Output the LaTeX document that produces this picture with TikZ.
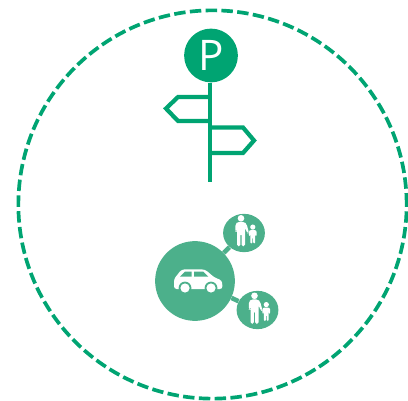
\documentclass[tikz,border=0pt]{standalone}
\usepackage{fontspec}
\setmainfont{Open Sans}
\usetikzlibrary{shapes.geometric, backgrounds}
\definecolor{signG}{HTML}{00A472}
\definecolor{carG}{HTML}{4CB08B}
\tikzset{
  ring/.style    ={draw=signG, line width=2.1pt, dash pattern=on 6.5pt off 2.5pt,
                   circle, inner sep=0pt, minimum size=221pt},
  badge/.style   ={circle, fill=signG, text=white, inner sep=0pt, minimum size=30.6pt,
                   font=\fontsize{24}{28}\selectfont},
  post/.style    ={draw=signG, line width=2.5pt},
  arm/.style     ={draw=signG, line width=2.4pt, miter limit=10},
  hub/.style     ={circle, fill=carG, inner sep=0pt, minimum size=45.4pt},
  sat/.style     ={ellipse, fill=carG, inner sep=0pt, minimum width=23.8pt, minimum height=21.8pt},
  link/.style    ={draw=carG, line width=2.6pt},
  family/.pic    ={
    % adult
    \fill[white] (0,-7.2) circle (3.3);
    \fill[white, rounded corners=1pt] (-5.6,6.5) -- (-5.6,-1.5) -- (-3.4,-3.6) -- (3.4,-3.6) -- (5.6,-1.5)
      -- (8,7.5) -- (6.4,8) -- (4,2) -- (4,21) -- (0.6,21) -- (0.6,8) -- (-0.6,8)
      -- (-0.6,21) -- (-4,21) -- (-4,2) -- (-4.2,6.5) -- cycle;
    % child
    \fill[white] (11.8,1.6) circle (2.6);
    \fill[white, rounded corners=.6pt] (7.9,10.5) -- (7.9,5.6) -- (9.4,4.5) -- (14.2,4.5) -- (15.7,5.6)
      -- (15.7,10.5) -- (14.4,10.5) -- (14.2,8) -- (14.2,18) -- (12.2,18) -- (12.2,12) -- (11.4,12)
      -- (11.4,18) -- (9.4,18) -- (9.4,8) -- (9.2,10.5) -- cycle;
  },
}

\begin{document}
\begin{tikzpicture}[x=0.02cm, y=-0.02cm]
\useasboundingbox (0,0) rectangle (408,401);

% Dashed outer circle
\node[ring] (border) at (212.5,204.5) {};

% Signpost
\node[badge] (pin) at (211,55.5) {P};
\coordinate (foot) at (210,182);
\draw[post] (pin.south -| foot) -- (foot);
\draw[arm] (210,97) -- (178,97) -- (166,108.5) -- (178,121) -- (210,121);
\draw[arm] (210,127.5) -- (243,127.5) -- (254,140.5) -- (243,153) -- (210,153);

% Car and the two families
\node[hub] (car) at (195,281) {};
\node[sat] (famA) at (244,233) {};
\node[sat] (famB) at (257.5,310) {};
\begin{scope}[on background layer]
  \draw[link] (car) -- (famA);
  \draw[link] (car) -- (famB);
\end{scope}

\fill[white, rounded corners=1.5pt] (174,289) -- (174,279) -- (181.5,269.5) -- (205,269.5) -- (214.5,277.5)
  -- (222,280.5) -- (222.5,289) -- cycle;
\fill[carG] (180,276.7) -- (185,271.7) -- (191.7,271.7) -- (191.7,276.7) -- cycle;
\fill[carG] (194,271.7) -- (203.3,271.7) -- (208.3,276.7) -- (194,276.7) -- cycle;
\foreach \x in {185,211} {
  \fill[carG] (\x,288) circle (6.4);
  \fill[white] (\x,288) circle (4.6);
}

\pic at (241,225.5) {family};
\pic at (254.5,303) {family};

\end{tikzpicture}
\end{document}
